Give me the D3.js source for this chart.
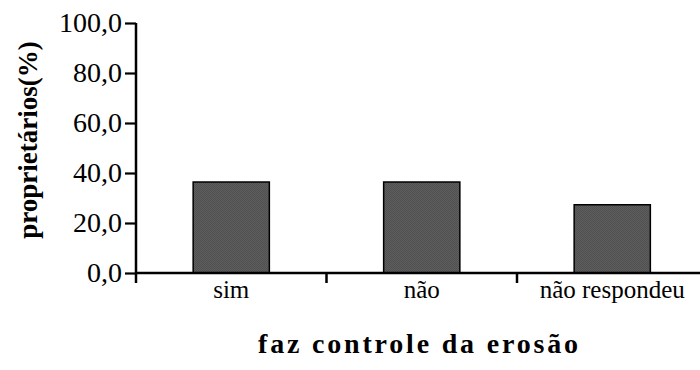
<!DOCTYPE html>
<html>
<head>
<meta charset="utf-8">
<script src="https://cdn.jsdelivr.net/npm/d3@7"></script>
<style>
  html, body { margin: 0; padding: 0; background: #fff; }
  svg { display: block; }
</style>
</head>
<body>
<svg id="chart" width="700" height="370"></svg>
<script>
// Survey: share of landowners who practise erosion control
const categories = ["sim", "não", "não respondeu"];
const values = [36.4, 36.4, 27.3];
const yTicks = [0, 20, 40, 60, 80, 100];
const yLabel = "proprietários(%)";
const xLabel = "faz controle da erosão";

const FONT = "'Liberation Serif', serif";

const svg = d3.select("#chart").style("font-family", FONT);
const margin = { left: 136, top: 23, bottom: 97 };
const plotRight = 707.5;
const height = 370;

const x = d3.scaleBand()
  .domain(categories)
  .range([margin.left, plotRight])
  .paddingInner(0.6)
  .paddingOuter(0.3);

const y = d3.scaleLinear()
  .domain([0, 100])
  .range([height - margin.bottom, margin.top]);

// fine dither pattern for the bar fill
const defs = svg.append("defs");
const pat = defs.append("pattern")
  .attr("id", "dither")
  .attr("width", 2).attr("height", 2)
  .attr("patternUnits", "userSpaceOnUse");
pat.append("rect").attr("width", 2).attr("height", 2).attr("fill", "#5e5e5e");
pat.append("rect").attr("width", 1).attr("height", 1).attr("fill", "#505050");
pat.append("rect").attr("x", 1).attr("y", 1).attr("width", 1).attr("height", 1).attr("fill", "#505050");

// bars
svg.append("g")
  .selectAll("rect")
  .data(categories.map((c, i) => ({ c, v: values[i] })))
  .join("rect")
  .attr("x", d => x(d.c))
  .attr("y", d => y(d.v))
  .attr("width", x.bandwidth())
  .attr("height", d => y(0) - y(d.v))
  .attr("fill", "url(#dither)")
  .attr("stroke", "#000")
  .attr("stroke-width", 1.5);

// y axis
const yAxis = svg.append("g")
  .attr("transform", `translate(${margin.left},0)`)
  .call(d3.axisLeft(y)
    .tickValues(yTicks)
    .tickSize(11)
    .tickPadding(3)
    .tickFormat(d => d3.format(".1f")(d).replace(".", ",")));
yAxis.attr("font-family", null).attr("font-size", null)
  .style("font-family", FONT);
yAxis.select(".domain").attr("stroke-width", 2.5).attr("d", `M0,${y(100)}V${y(0) + 10}`);
yAxis.selectAll(".tick line").attr("stroke-width", 2.2);
yAxis.selectAll(".tick text")
  .style("font-family", FONT)
  .style("font-size", "28px")
  .attr("fill", "#000");

// x axis: ticks sit on the boundaries between categories
const step = x.step();
const boundaries = categories.slice(1).map(c => x(c) - (step - x.bandwidth()) / 2);
const xAxisG = svg.append("g")
  .attr("transform", `translate(0,${y(0)})`)
  .style("font-family", FONT);
xAxisG.append("line")
  .attr("x1", margin.left).attr("x2", plotRight)
  .attr("stroke", "#000").attr("stroke-width", 2.5);
xAxisG.selectAll("line.tk")
  .data(boundaries)
  .join("line")
  .attr("class", "tk")
  .attr("x1", d => d).attr("x2", d => d)
  .attr("y1", 0).attr("y2", 10)
  .attr("stroke", "#000").attr("stroke-width", 2.5);
xAxisG.selectAll("text")
  .data(categories)
  .join("text")
  .attr("x", d => x(d) + x.bandwidth() / 2)
  .attr("y", 25)
  .attr("text-anchor", "middle")
  .style("font-family", FONT)
  .style("font-size", "25px")
  .text(d => d);

// axis titles
svg.append("text")
  .attr("transform", `translate(37,${140}) rotate(-90)`)
  .attr("text-anchor", "middle")
  .style("font-family", FONT)
  .style("font-size", "27px")
  .style("font-weight", "bold")
  .text(yLabel);

svg.append("text")
  .attr("x", 418)
  .attr("y", 353)
  .attr("text-anchor", "middle")
  .style("font-family", FONT)
  .style("font-size", "28px")
  .style("font-weight", "bold")
  .attr("textLength", 320)
  .attr("lengthAdjust", "spacing")
  .text(xLabel);
</script>
</body>
</html>
